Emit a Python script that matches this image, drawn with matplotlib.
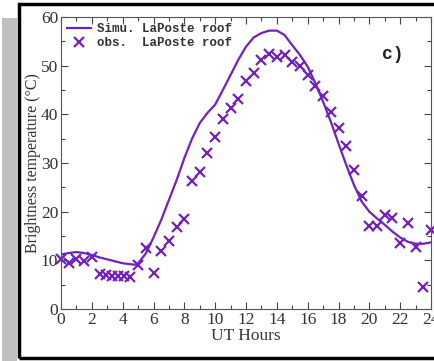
import matplotlib
matplotlib.use("Agg")
import matplotlib.pyplot as plt
from matplotlib.patches import Rectangle
from matplotlib.ticker import MultipleLocator

# simulated roof brightness temperature (line)
simu_hours = [0, 0.5, 1, 1.5, 2, 2.5, 3, 3.5, 4, 4.5, 4.8, 5, 5.5, 6, 6.5, 7, 7.5,
              8, 8.5, 9, 9.5, 10, 10.5, 11, 11.5, 12, 12.5, 13, 13.5, 14, 14.5,
              15, 15.5, 16, 16.5, 17, 17.5, 18, 18.5, 19, 19.5, 20, 20.5, 21,
              21.5, 22, 22.5, 23, 23.5, 24]
simu_temp = [11.2, 11.5, 11.7, 11.5, 11.1, 10.6, 10.2, 9.8, 9.4, 9.2, 9.1, 9.4,
             11.4, 14.7, 18.3, 22.4, 26.5, 31.0, 35.0, 38.2, 40.3, 42.0, 45.0,
             48.1, 51.2, 53.9, 55.8, 56.7, 57.2, 57.2, 56.3, 54.2, 52.2, 49.8,
             46.4, 42.6, 38.5, 34.0, 29.6, 25.5, 22.1, 20.0, 18.6, 17.3, 15.9,
             14.7, 13.8, 13.4, 13.4, 13.7]

# observed roof brightness temperature (crosses)
obs_hours = [0, 0.5, 1, 1.5, 2, 2.5, 2.9, 3.3, 3.7, 4.1, 4.5, 5, 5.5, 6, 6.5, 7,
             7.5, 8, 8.5, 9, 9.5, 10, 10.5, 11, 11.5, 12, 12.5, 13, 13.5, 14,
             14.5, 15, 15.5, 16, 16.5, 17, 17.5, 18, 18.5, 19, 19.5, 20, 20.5,
             21, 21.5, 22, 22.5, 23, 23.5, 24]
obs_temp = [10.2, 9.4, 10.2, 9.9, 10.6, 7.2, 6.9, 6.8, 6.8, 6.8, 6.6, 9.0, 12.5,
            7.5, 12.0, 14.0, 16.9, 18.5, 26.4, 28.1, 32.1, 35.4, 39.0, 41.2,
            43.2, 46.8, 48.4, 51.1, 52.4, 51.7, 52.2, 50.8, 49.9, 48.1, 45.9,
            43.8, 40.5, 37.1, 33.4, 28.6, 23.3, 17.1, 17.1, 19.3, 18.6, 13.5,
            17.7, 12.8, 4.5, 16.2]

purple = "#7221bc"
W, H = 434, 361

fig = plt.figure(figsize=(W / 100, H / 100), dpi=100)
fig.patch.set_facecolor("white")

# grey shadow strip on the left and black frame around the plot
fig.patches.append(Rectangle((2 / W, 0), 15 / W, 1 - 18 / H, transform=fig.transFigure,
                             facecolor="#c0c0c0", edgecolor="none", zorder=0))
fig.patches.append(Rectangle((18.5 / W, 3 / H), 1.2, 1 - 6.5 / H, transform=fig.transFigure,
                             facecolor="none", edgecolor="black", linewidth=2.5, zorder=1))

ax = fig.add_axes([61 / W, 1 - 309 / H, 370 / W, 292 / H])
ax.plot(simu_hours, simu_temp, color=purple, lw=1.6, label="Simu. LaPoste roof")
ax.plot(obs_hours, obs_temp, ls="none", marker="x", ms=7.5, mew=1.6, color=purple,
        label="obs.  LaPoste roof", clip_on=False)

ax.set_xlim(0, 24)
ax.set_ylim(0, 60)
ax.xaxis.set_major_locator(MultipleLocator(2))
ax.xaxis.set_minor_locator(MultipleLocator(1))
ax.yaxis.set_major_locator(MultipleLocator(10))
ax.yaxis.set_minor_locator(MultipleLocator(5))
ax.tick_params(which="both", direction="in", top=True, right=True, color="#444444",
               labelcolor="#333333", labelsize=12.5, pad=2)
ax.tick_params(which="major", length=5, width=0.8)
ax.tick_params(which="minor", length=3, width=0.8)
for lab in ax.get_xticklabels() + ax.get_yticklabels():
    lab.set_family("Liberation Serif")
for sp in ax.spines.values():
    sp.set_color("#555555")
    sp.set_linewidth(0.8)

ax.set_xlabel("UT Hours", family="Liberation Serif", fontsize=12.5, color="#333333", labelpad=0)
ax.set_ylabel("Brightness temperature (°C)", family="Liberation Serif", fontsize=11.5,
              color="#333333", labelpad=0)

leg = ax.legend(loc="upper left", frameon=False, prop={"family": "Liberation Mono",
                "size": 9, "weight": "bold"}, handlelength=1.9, handletextpad=0.5,
                borderaxespad=0.3, labelspacing=0.15, borderpad=0.2)
for t in leg.get_texts():
    t.set_color("#333333")

ax.text(0.897, 0.87, "c)", transform=ax.transAxes, family="Liberation Mono",
        fontsize=13, weight="bold", ha="center", va="center", color="#222222")

fig.savefig("out.png", dpi=100)
